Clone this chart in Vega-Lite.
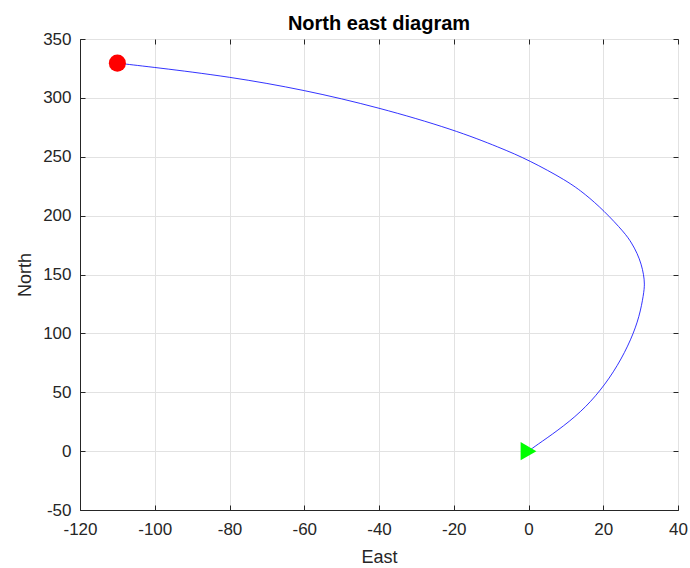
{
  "$schema": "https://vega.github.io/schema/vega-lite/v6.json",
  "width": 598,
  "height": 471,
  "autosize": "none",
  "padding": {"left": 80, "top": 39, "right": 12, "bottom": 58},
  "background": "white",
  "title": {"text": "North east diagram", "fontSize": 20, "fontWeight": "bold", "font": "Liberation Sans", "color": "black", "offset": -4},
  "config": {
    "view": {"stroke": "#262626", "strokeWidth": 1},
    "axis": {
      "labelFont": "Liberation Sans", "labelFontSize": 17, "labelColor": "#262626",
      "titleFont": "Liberation Sans", "titleFontSize": 18, "titleFontWeight": "normal", "titleColor": "#262626",
      "domainColor": "#262626", "tickColor": "#262626", "gridColor": "#e2e2e2", "gridOpacity": 1,
      "tickSize": -5
    }
  },
  "datasets": {
    "path": [
      {"i": 0, "east": 0, "north": 0},
      {"i": 1, "east": 2, "north": 4.7},
      {"i": 2, "east": 7.8, "north": 17.4},
      {"i": 3, "east": 14, "north": 33},
      {"i": 4, "east": 19.3, "north": 51.4},
      {"i": 5, "east": 23.9, "north": 72.5},
      {"i": 6, "east": 27.5, "north": 95},
      {"i": 7, "east": 29.7, "north": 114.5},
      {"i": 8, "east": 30.8, "north": 133},
      {"i": 9, "east": 31.1, "north": 142},
      {"i": 10, "east": 30.8, "north": 150},
      {"i": 11, "east": 30.2, "north": 158.6},
      {"i": 12, "east": 29.1, "north": 168},
      {"i": 13, "east": 27.6, "north": 176.8},
      {"i": 14, "east": 25.8, "north": 185.2},
      {"i": 15, "east": 20.1, "north": 204.5},
      {"i": 16, "east": 15.2, "north": 218.2},
      {"i": 17, "east": 10.3, "north": 229.6},
      {"i": 18, "east": 0, "north": 247.3},
      {"i": 19, "east": -7.5, "north": 257.6},
      {"i": 20, "east": -20, "north": 273.1},
      {"i": 21, "east": -40, "north": 291.8},
      {"i": 22, "east": -60, "north": 306.8},
      {"i": 23, "east": -80, "north": 318},
      {"i": 24, "east": -100, "north": 325.9},
      {"i": 25, "east": -110, "north": 329.5}
    ],
    "markers": [
      {"kind": "start", "east": 0, "north": 0},
      {"kind": "end", "east": -110, "north": 329.5}
    ]
  },
  "layer": [
    {
      "data": {"name": "path"},
      "mark": {"type": "line", "interpolate": "basis", "color": "#0000ff", "strokeWidth": 0.8},
      "encoding": {
        "x": {"field": "east", "type": "quantitative", "scale": {"domain": [-120, 40], "nice": false, "zero": false},
              "axis": {"title": "East", "orient": "bottom", "values": [-120, -100, -80, -60, -40, -20, 0, 20, 40], "grid": true, "labelPadding": 16, "titlePadding": 11, "labelFlush": false, "labelExpr": "'' + datum.value"}},
        "y": {"field": "north", "type": "quantitative", "scale": {"domain": [-50, 350], "nice": false, "zero": false},
              "axis": {"title": "North", "orient": "left", "values": [-50, 0, 50, 100, 150, 200, 250, 300, 350], "grid": true, "labelPadding": 14, "titlePadding": 8, "labelFlush": false, "labelExpr": "'' + datum.value"}},
        "order": {"field": "i", "type": "quantitative"}
      }
    },
    {
      "data": {"name": "markers"},
      "mark": {"type": "point", "filled": true, "opacity": 1},
      "encoding": {
        "x": {"field": "east", "type": "quantitative", "scale": {"domain": [-120, 40], "nice": false, "zero": false},
              "axis": {"title": null, "orient": "top", "labels": false, "grid": false, "domain": false, "values": [-120, -100, -80, -60, -40, -20, 0, 20, 40]}},
        "y": {"field": "north", "type": "quantitative", "scale": {"domain": [-50, 350], "nice": false, "zero": false},
              "axis": {"title": null, "orient": "right", "labels": false, "grid": false, "domain": false, "values": [-50, 0, 50, 100, 150, 200, 250, 300, 350]}},
        "shape": {"field": "kind", "type": "nominal", "scale": {"domain": ["start", "end"], "range": ["triangle-right", "circle"]}, "legend": null},
        "color": {"field": "kind", "type": "nominal", "scale": {"domain": ["start", "end"], "range": ["#00ff00", "#ff0000"]}, "legend": null},
        "size": {"field": "kind", "type": "nominal", "scale": {"domain": ["start", "end"], "range": [330, 290]}, "legend": null}
      }
    }
  ],
  "resolve": {"axis": {"x": "independent", "y": "independent"}}
}
